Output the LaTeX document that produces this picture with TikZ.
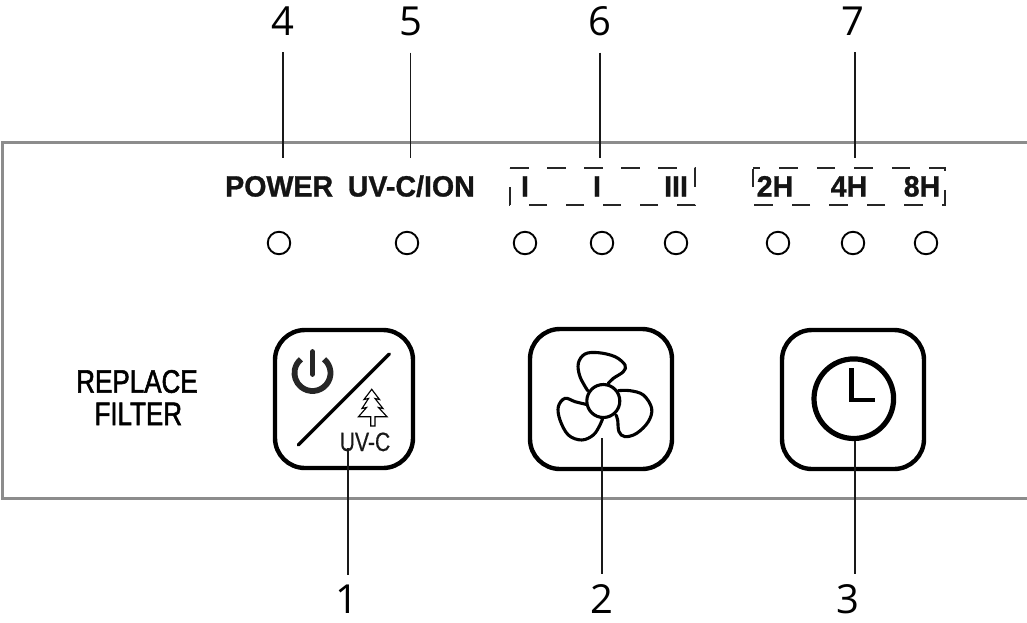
\documentclass[tikz,border=0pt]{standalone}
\usepackage{fontspec}
\setmainfont{Liberation Sans}
\newfontfamily\numfont{Open Sans}
\newfontfamily\boldlab[FakeBold=1.0,FakeStretch=0.975]{Liberation Sans Bold}
\newfontfamily\condfont[FakeStretch=0.8,FakeBold=1.6]{Liberation Sans}
\newfontfamily\uvfont[FakeStretch=0.8,FakeBold=0.4]{Liberation Sans}
\tikzset{
  x=1pt,y=-1pt,
  panel/.style={draw=black!45,line width=3pt},
  leader/.style={draw=black!90,line width=1.4pt},
  num/.style={font=\numfont\fontsize{40}{40}\selectfont,inner sep=0pt,text=black,anchor=base},
  lab/.style={font=\boldlab\fontsize{29.3}{29.3}\selectfont,inner sep=0pt,text=black!92,anchor=base},
  led/.style={circle,draw=black,line width=1.9pt,minimum size=22.5pt,inner sep=0pt},
  btn/.style={draw=black,line width=4.4pt,rounded corners=30pt,inner sep=0pt},
  dbox/.style={draw=black!85,line width=1.6pt},
  fanblade/.style={draw=black,line width=3.1pt,line cap=round},
}
\begin{document}
\begin{tikzpicture}
\useasboundingbox (0,0) rectangle (1027,622);
\draw[panel] (1040,142) -- (2.7,142) -- (2.7,498) -- (1040,498);
% top labels and leaders
\foreach \n/\x/\nx/\l in {a/283/283/4,b/410.5/411/5,c/600/600/6,d/855/853/7}{
  \node[num] (n\n) at (\nx,35) {\l};
  \coordinate (e\n) at (\x,158);
  \draw[leader,shorten <=17pt] (e\n |- n\n.south) -- (e\n);
}
\node[lab,anchor=base west] (tp) at (225,196.5) {POWER};
\node[lab,anchor=base east] (tu) at (475,196.5) {UV-C/ION};
\draw[dbox,dash pattern=on 18.5pt off 18.5pt] (510,168) -- (695,168) -- (695,205) -- (510,205) -- cycle;
\draw[dbox,dash pattern=on 18.5pt off 19pt,dash phase=11.2pt] (753,168) -- (945,168) -- (945,205) -- (753,205) -- cycle;
\foreach \n/\x/\t in {i/525/I,j/597/I,k/676/III,l/775/2H,m/849/4H,o/922/8H}{
  \node[lab] (t\n) at (\x,196.5) {\t};
}
\foreach \n/\x in {a/279,b/407,c/525,d/602,e/676,f/778,g/853,h/926}{
  \node[led] (l\n) at (\x,243) {};
}
% replace filter
\node[inner sep=0pt,anchor=base,font=\condfont\fontsize{32.5}{32.5}\selectfont] (rp) at (137,392.7) {REPLACE};
\node[inner sep=0pt,anchor=base,font=\condfont\fontsize{32.5}{32.5}\selectfont] (fl) at (138.3,425) {FILTER};
% buttons
\node[btn,minimum width=138pt,minimum height=138pt] (b1) at (344,399) {};
\node[btn,minimum width=142pt,minimum height=140pt] (b2) at (601,399) {};
\node[btn,minimum width=142pt,minimum height=139pt] (b3) at (853,399.5) {};
% power icon
\draw[black!85,line width=5.8pt] ([shift={(-50:18)}]312.5,373) arc[start angle=-50,end angle=230,radius=18];
\draw[black!85,line width=5.8pt,line cap=round] (312.5,352) -- (312.5,374);
% diagonal
\draw[black,line width=3.4pt,line cap=round] (298.3,445) -- (389.3,354);
% tree
\draw[black,line width=1.15pt,line join=miter]
  (371.7,389.3) -- (379.5,399.5) -- (375,398.5) -- (383,408.5) -- (378.5,407.5) -- (387,416.7)
  -- (375,416.7) -- (375,426) -- (370.7,426) -- (370.7,416.7) -- (358.5,416.7)
  -- (366.5,407.5) -- (362,408.5) -- (368.5,398.5) -- (364,399.5) -- cycle;
\node[inner sep=0pt,anchor=base,font=\uvfont\fontsize{26.5}{26.5}\selectfont,text=black!90] (uv) at (365,451) {UV-C};
% fan
\begin{scope}[shift={(515,320)},x=0.3333pt,y=-0.3333pt]
  \draw[fanblade] plot[smooth,tension=0.6] coordinates {(218,212) (195,170) (190,130) (210,102) (250,98) (300,110) (330,135) (325,155) (295,175) (280,190)};
  \draw[fanblade] plot[smooth,tension=0.6] coordinates {(310,212) (345,212) (385,225) (410,265) (400,305) (365,340) (330,350) (312,335) (308,300) (303,285)};
  \draw[fanblade] plot[smooth,tension=0.6] coordinates {(213,253) (180,245) (150,235) (130,260) (135,300) (160,345) (200,360) (235,345) (255,315) (263,295)};
\end{scope}
\node[circle,draw=black,line width=3.1pt,minimum size=33pt,inner sep=0pt] (hub) at (603.3,401) {};
% clock
\node[circle,draw=black,line width=5.2pt,minimum size=79.6pt,inner sep=0pt] (clk) at (853.8,398.7) {};
\draw[black,line width=4.8pt,line join=miter] (851.7,368.3) -- (851.7,400) -- (875,400);
% bottom labels and leaders
\foreach \n/\x/\nx/\t/\l in {1/348/347/448/1,2/602/601.7/438/2,3/855/848/441/3}{
  \node[num] (m\n) at (\nx,613) {\l};
  \coordinate (s\n) at (\x,\t);
  \draw[leader,shorten >=9.7pt] (s\n) -- (s\n |- m\n.north);
}
\end{tikzpicture}
\end{document}
